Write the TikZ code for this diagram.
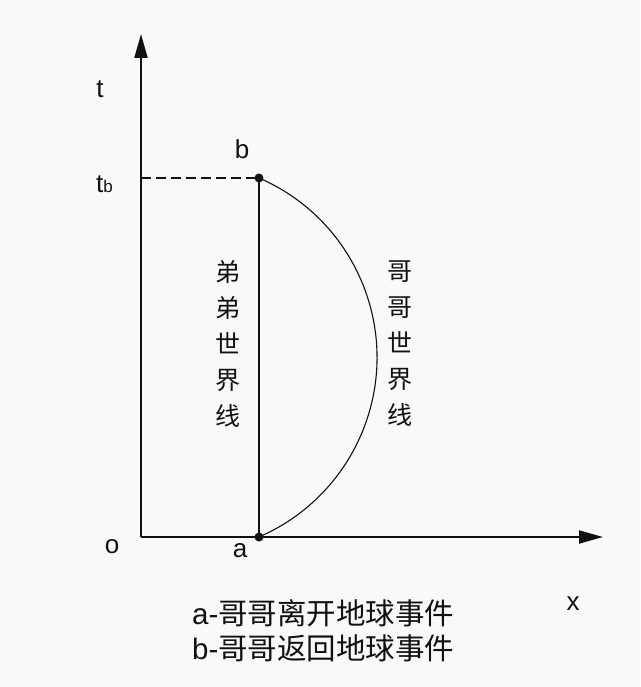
\documentclass[tikz,border=0pt]{standalone}
\usepackage{fontspec}
\setmainfont{Liberation Sans}
\newfontfamily\cjk{Noto Sans CJK SC}
\usetikzlibrary{arrows.meta}
\definecolor{bg}{HTML}{F9F9FB}
\definecolor{ink}{HTML}{111111}
\tikzset{
  axis/.style={line width=2pt, draw=ink, -{Triangle[length=24pt,width=13pt]}},
  worldline/.style={line width=2pt, draw=ink},
  curveline/.style={line width=1.1pt, draw=ink},
  guide/.style={line width=1.8pt, draw=ink, dash pattern=on 10pt off 5pt},
  lbl/.style={inner sep=0pt, text=ink, font=\fontsize{26}{26}\selectfont},
  vtext/.style={inner sep=0pt, text=ink, align=center, font=\cjk\fontsize{25}{36}\selectfont},
  legend/.style={inner sep=0pt, text=ink, align=left, font=\fontsize{29.5}{35}\selectfont},
  event/.style={fill=ink}
}
\begin{document}
\begin{tikzpicture}[x=1pt,y=-1pt]
\fill[bg] (0,0) rectangle (640,687);
\useasboundingbox (0,0) rectangle (640,687);
\coordinate (O) at (141,537);
\coordinate (Ttip) at (141,34);
\coordinate (Xtip) at (603,537);
\coordinate (A) at (259,537);
\coordinate (B) at (259,178);
\coordinate (Tb) at (141,178);
\draw[axis] (O) -- (Ttip);
\draw[axis] (O) -- (Xtip);
\draw[guide] (Tb) -- (B);
\draw[worldline] (A) -- (B);
\draw[curveline] (B) arc[start angle=66.65, end angle=-66.65, radius=195.5pt];
\fill[event] (A) circle[radius=4.5pt];
\fill[event] (B) circle[radius=4.5pt];
\node[lbl] (tlab) at (100,89) {t};
\node[lbl, anchor=base west] (tblab) at (96,193) {t{\fontsize{17}{17}\selectfont b}};
\node[lbl] (blab) at (242,149) {b};
\node[lbl] (olab) at (112,547) {o};
\node[lbl] (alab) at (240,551) {a};
\node[lbl] (xlab) at (573,604) {x};
\node[vtext] (younger) at (228,344) {弟\\弟\\世\\界\\线};
\node[vtext] (elder) at (400,344) {哥\\哥\\世\\界\\线};
\node[legend, anchor=west] (legend) at (192,631) {a-{\cjk 哥哥离开地球事件}\\b-{\cjk 哥哥返回地球事件}};
\end{tikzpicture}
\end{document}
